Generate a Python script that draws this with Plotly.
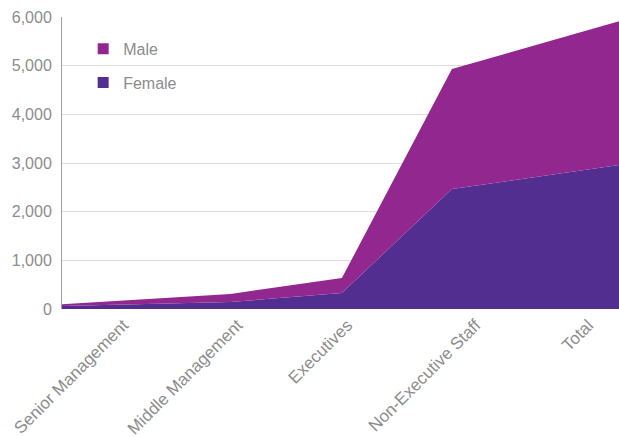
import plotly.graph_objects as go

# staff levels and head counts
categories = ["Senior Management", "Middle Management", "Executives",
              "Non-Executive Staff", "Total"]
female = [60, 145, 330, 2465, 2960]
male = [40, 165, 305, 2465, 2955]

# where each level sits along the axis (the source chart is unevenly spaced)
x_pos = [0, 1.21, 2.01, 2.80, 4]
label_pos = [0.44, 1.26, 2.05, 2.97, 3.78]

MALE_COL = "#92278f"
FEMALE_COL = "#522e91"
GREY = "#8c8c8c"
FONT = "Liberation Sans"

fig = go.Figure()

fig.add_trace(go.Scatter(x=x_pos, y=female, name="Female", stackgroup="one",
                         mode="lines", line=dict(width=0, color=FEMALE_COL),
                         fillcolor=FEMALE_COL, showlegend=False, hoverinfo="y"))
fig.add_trace(go.Scatter(x=x_pos, y=male, name="Male", stackgroup="one",
                         mode="lines", line=dict(width=0, color=MALE_COL),
                         fillcolor=MALE_COL, showlegend=False, hoverinfo="y"))

# square swatches for the legend
for name, col in [("Male", MALE_COL), ("Female", FEMALE_COL)]:
    fig.add_trace(go.Scatter(x=[None], y=[None], mode="markers", name=name,
                             legendgroup=name,
                             marker=dict(symbol="square", size=11, color=col)))

fig.update_layout(
    width=619, height=437,
    margin=dict(l=62, r=0, t=17, b=128),
    plot_bgcolor="white", paper_bgcolor="white",
    font=dict(family=FONT, size=16, color=GREY),
    showlegend=True,
    legend=dict(x=0.038, y=0.949, xanchor="left", yanchor="top",
                bgcolor="rgba(0,0,0,0)", tracegroupgap=10,
                font=dict(size=16, color=GREY), itemwidth=30),
)
fig.update_xaxes(range=[0, 4], tickmode="array", tickvals=label_pos,
                 ticktext=categories, tickangle=-45, showgrid=False,
                 zeroline=False, showline=False, ticks="", automargin=False,
                 ticklabeloverflow="allow", ticklabelstandoff=2,
                 tickfont=dict(size=17, color=GREY, family=FONT))
fig.update_yaxes(range=[0, 6000], tickmode="array",
                 tickvals=[0, 1000, 2000, 3000, 4000, 5000, 6000],
                 tickformat=",", showgrid=True, gridcolor="#dcdcdc",
                 gridwidth=1, zeroline=False, showline=True,
                 linecolor="#a0a0a0", linewidth=1, ticks="", automargin=False,
                 ticklabelstandoff=6,
                 tickfont=dict(size=16, color=GREY, family=FONT))

# drop the default page margin so the figure fills the window exactly
fig.write_html("out.html", config={"displayModeBar": False},
               post_script="document.body.style.margin = '0';")
